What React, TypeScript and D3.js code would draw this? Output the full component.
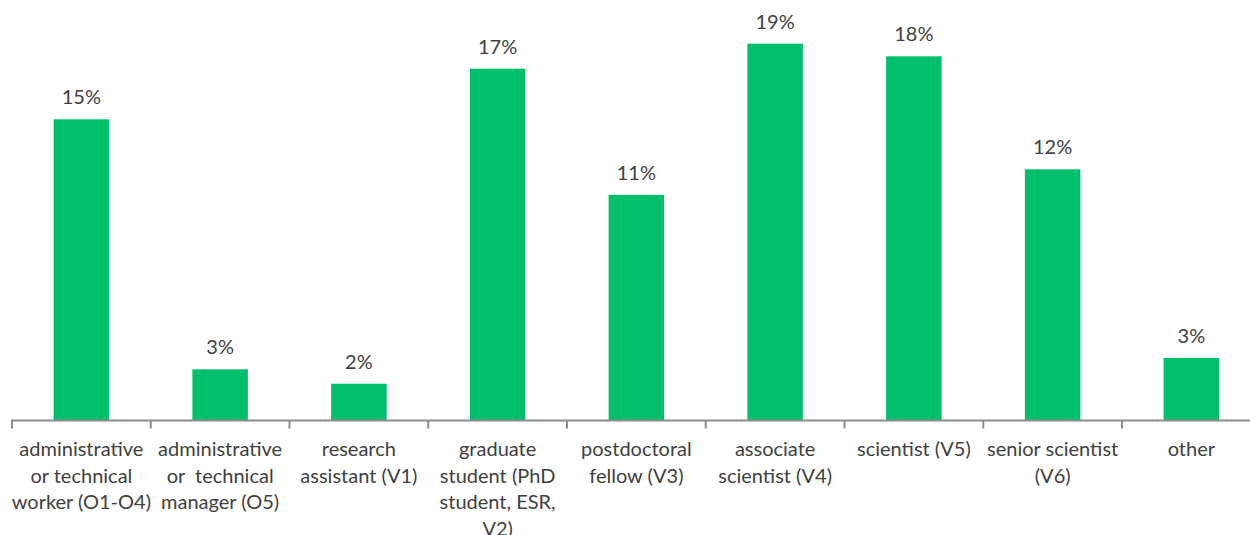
import React from "react";
import * as d3 from "d3";

const categories = [
  "admin-worker",
  "admin-manager",
  "research-assistant",
  "graduate-student",
  "postdoc",
  "associate",
  "scientist",
  "senior",
  "other",
];
const categoryLines: string[][] = [
  ["administrative", "or technical", "worker (O1-O4)"],
  ["administrative", "or  technical", "manager (O5)"],
  ["research", "assistant (V1)"],
  ["graduate", "student (PhD", "student, ESR,", "V2)"],
  ["postdoctoral", "fellow (V3)"],
  ["associate", "scientist (V4)"],
  ["scientist (V5)"],
  ["senior scientist", "(V6)"],
  ["other"],
];
const values = [15.06, 2.56, 1.84, 17.59, 11.28, 18.84, 18.21, 12.56, 3.13];
const valueLabels = ["15%", "3%", "2%", "17%", "11%", "19%", "18%", "12%", "3%"];

const W = 1250;
const H = 535;
const BASE = 420.5;
const FONT = "Lato, 'Open Sans', sans-serif";

export default function App() {
  const x = d3
    .scaleBand<string>()
    .domain(categories)
    .range([12, 1260.75])
    .paddingInner(0.6)
    .paddingOuter(0.3);
  const y = d3.scaleLinear().domain([0, 20]).range([BASE, BASE - 400]);
  const step = x.step();
  const bw = x.bandwidth();
  const boundaries = categories.map((c) => (x(c) as number) + bw / 2 - step / 2);
  boundaries.push(boundaries[boundaries.length - 1] + step);

  return (
    <svg
      width={W}
      height={H}
      style={{ position: "absolute", left: 0, top: 0, display: "block", background: "#fff" }}
    >
      {categories.map((c, i) => (
        <rect
          key={c}
          x={x(c)}
          y={y(values[i])}
          width={bw}
          height={BASE - y(values[i])}
          fill="#00BF6B"
        />
      ))}
      <line x1={11} x2={W} y1={BASE} y2={BASE} stroke="#8c8c8c" strokeWidth={2} />
      {boundaries.map((b, i) => (
        <line key={i} x1={b} x2={b} y1={BASE} y2={BASE + 8} stroke="#8c8c8c" strokeWidth={2} />
      ))}
      {categories.map((c, i) => (
        <text
          key={"v" + c}
          x={(x(c) as number) + bw / 2}
          y={y(values[i]) - 15}
          textAnchor="middle"
          fontFamily={FONT}
          fontSize={20}
          fill="#404040"
        >
          {valueLabels[i]}
        </text>
      ))}
      {categories.map((c, i) => (
        <text
          key={"c" + c}
          x={(x(c) as number) + bw / 2}
          textAnchor="middle"
          fontFamily={FONT}
          fontSize={20}
          fill="#404040"
          style={{ whiteSpace: "pre" }}
        >
          {categoryLines[i].map((l, j) => (
            <tspan key={j} x={(x(c) as number) + bw / 2} y={456 + j * 26.6}>
              {l}
            </tspan>
          ))}
        </text>
      ))}
    </svg>
  );
}
